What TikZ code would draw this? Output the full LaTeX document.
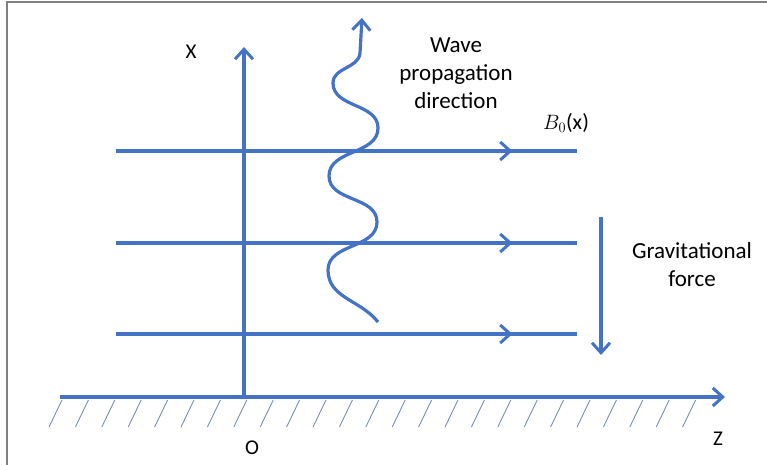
\documentclass[tikz,border=0pt]{standalone}
\usepackage{fontspec}
\setmainfont{Carlito}
\usetikzlibrary{arrows.meta,decorations.markings}
\definecolor{lineblue}{RGB}{68,114,196}
\definecolor{hatchblue}{RGB}{120,140,190}

\begin{document}
\begin{tikzpicture}[x=1pt, y=1pt,
        axis/.style={draw=lineblue, line width=3.2pt, -{Straight Barb[length=10pt,width=18pt,line width=3pt]}},
        fieldline/.style={draw=lineblue, line width=3.2pt, postaction={decorate},
            decoration={markings, mark=at position 0.86 with {\arrow{Straight Barb[length=10pt,width=18pt,line width=3pt]}}}},
        hatch/.style={draw=hatchblue, line width=0.9pt},
        lbl/.style={font=\fontsize{23}{28}\selectfont, inner sep=0pt, align=center}]
    \useasboundingbox (0,0) rectangle (767,465);
    \draw[gray, line width=1.5pt] (7,0) -- (7,463) -- (767,463);
    \coordinate (ground west) at (60,68);
    \coordinate (ground east) at (725,68);
    \coordinate (origin) at (244,68);
    \coordinate (xtop) at (244,418);
    \coordinate (gtop) at (601,248);
    \coordinate (gbot) at (601,110);
    \foreach \i in {0,...,24}
        \draw[hatch] ({62+26.4*\i},65) -- ++(-13,-27);
    \draw[axis] (ground west) -- (ground east);
    \draw[axis] (origin) -- (xtop);
    \foreach \y/\n in {314/top, 222/mid, 131/low} {
        \coordinate (\n west) at (116,\y);
        \coordinate (\n east) at (577,\y);
        \draw[fieldline] (\n west) -- (\n east);
    }
    \draw[axis] (gtop) -- (gbot);
    \draw[axis] (378,143) to[out=128,in=-90] (328,195) to[out=90,in=-90] (377,243)
        to[out=90,in=-90] (329,289) to[out=90,in=-90] (378,337)
        to[out=90,in=-90] (333,382) to[out=90,in=-95] (360,412) -- (362,447);
    \node[lbl, font=\fontsize{21}{26}\selectfont] (xlabel) at (191,413) {X};
    \node[lbl, font=\fontsize{21}{26}\selectfont] (olabel) at (252,17) {O};
    \node[lbl, font=\fontsize{21}{26}\selectfont] (zlabel) at (718,26) {Z};
    \node[lbl] (wave) at (456,392) {Wave\\propagation\\direction};
    \node[lbl, font=\fontsize{22}{26}\selectfont] (field) at (566,342) {$B_0$(x)};
    \node[lbl] (gravity) at (692,200) {Gravitational\\force};
\end{tikzpicture}
\end{document}
